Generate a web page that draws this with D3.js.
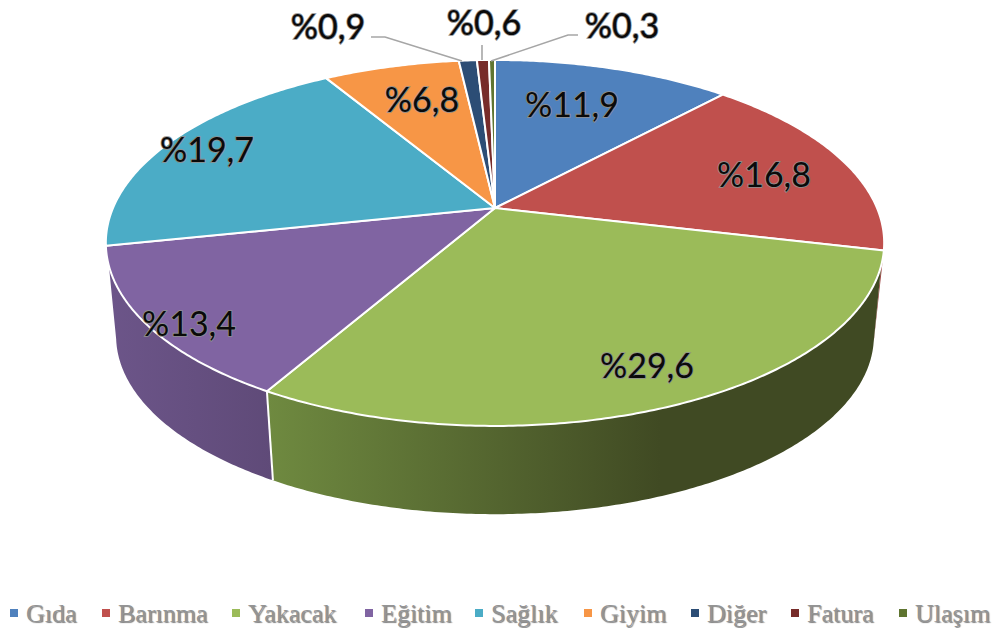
<!DOCTYPE html>
<html><head><meta charset="utf-8">
<script src="https://cdn.jsdelivr.net/npm/d3@7/dist/d3.min.js"></script>
<style>html,body{margin:0;background:#fff}svg{display:block}
.lab{font-family:Lato,"Open Sans",sans-serif;font-size:34px;fill:#0a0a0a;stroke:#8f8f8f;stroke-width:1.7px;paint-order:stroke fill}
.leg{font-family:"Liberation Serif",serif;font-size:26px;fill:#949494;text-shadow:1px 1px 1px #808080}
</style></head><body><script>
const categories=["Gıda","Barınma","Yakacak","Eğitim","Sağlık","Giyim","Diğer","Fatura","Ulaşım"];
const values=[11.9,16.8,29.6,13.4,19.7,6.8,0.9,0.6,0.3];
const labels=["%11,9","%16,8","%29,6","%13,4","%19,7","%6,8","%0,9","%0,6","%0,3"];
const colors=["#4f81bd","#c0504d","#9bbb59","#8064a2","#4bacc6","#f79646","#2c4d75","#772c2a","#5f7530"];
const wallLeft=["#3f6797","#9a403e","#6f8a40","#6c5589","#3c899e","#c67838","#233e5e","#5f2322","#4c5e26"];
const wallRight=["#3f6797","#9a403e","#404a23","#5f4a78","#3c899e","#c67838","#233e5e","#5f2322","#4c5e26"];
const labelPos=[[572,108],[764,178],[647,369],[189,327],[207,153],[422,103],[328,30],[484,26],[622,29]];
const leaderPts=[[[371,37],[385,37],[462,61]],[[482,45],[482,60]],[[578,35],[568,35],[491,61]]];
const legendX=[10,102,232,365,475,584,691,791,899];

const W=997,H=628,cx=495,cy=208,a=382,b=176.3,k=0.191,depthY=94,shrink=0.9736;
const svg=d3.select("body").append("svg").attr("width",W).attr("height",H);
const defs=svg.append("defs");
const pie=d3.pie().sort(null).value(d=>d).startAngle(0).endAngle(2*Math.PI);
const arcs=pie(values);
// perspective projection of the tilted disc
function topPt(t){const u=Math.sin(t),v=Math.cos(t),w=1+k*v;return [cx+a*u/w,cy-b*v/w];}
function botPt(t){const p=topPt(t);return [cx+shrink*(p[0]-cx),cy+depthY+shrink*(p[1]-cy)];}
function samples(t0,t1){const n=Math.max(2,Math.ceil((t1-t0)/0.01));return d3.range(n+1).map(i=>t0+(t1-t0)*i/n);}
const line=d3.line();
// visible part of the wall: the upper rim starts lower than the lower rim (silhouette)
const topA=Math.PI*0.6,topB=Math.PI*1.4,botA=Math.PI*0.567,botB=Math.PI*1.433;
// walls
arcs.forEach((d,i)=>{
  const tt0=Math.max(d.startAngle,topA),tt1=Math.min(d.endAngle,topB);
  const bt0=Math.max(d.startAngle,botA),bt1=Math.min(d.endAngle,botB);
  if(bt1<=bt0)return;
  const pts=samples(tt0,tt1).map(topPt).concat(samples(bt0,bt1).reverse().map(botPt));
  const xs=pts.map(p=>p[0]);
  const id="w"+i;
  const g=defs.append("linearGradient").attr("id",id).attr("gradientUnits","userSpaceOnUse")
    .attr("x2",d3.max(xs)).attr("x1",d3.min(xs)).attr("y1",0).attr("y2",0);
  g.append("stop").attr("offset",0).attr("stop-color",wallLeft[i]);
  g.append("stop").attr("offset",i===2?0.64:1).attr("stop-color",wallRight[i]);
  svg.append("path").attr("d",line(pts)+"Z").attr("fill",`url(#${id})`);
  // divider between walls, on the near side only
  if(d.startAngle>topA&&d.startAngle<topB)
    svg.append("path").attr("d",line([topPt(d.startAngle),botPt(d.startAngle)])).attr("fill","none").attr("stroke","#fff").attr("stroke-width",2);
});
// top face
arcs.forEach((d,i)=>{
  const pts=[[cx,cy]].concat(samples(d.startAngle,d.endAngle).map(topPt));
  svg.append("path").attr("d",line(pts)+"Z").attr("fill",colors[i]).attr("stroke","#fff").attr("stroke-width",2).attr("stroke-linejoin","round");
});
// leader lines
leaderPts.forEach(p=>svg.append("path").attr("d",line(p)).attr("fill","none").attr("stroke","#a6a6a6").attr("stroke-width",1.6));
// data labels
labels.forEach((t,i)=>svg.append("text").attr("class","lab").attr("x",labelPos[i][0]).attr("y",labelPos[i][1]).attr("text-anchor","middle").attr("dominant-baseline","middle").text(t));
// legend
categories.forEach((c,i)=>{
  svg.append("rect").attr("x",legendX[i]).attr("y",609).attr("width",8).attr("height",8).attr("fill",colors[i]);
  svg.append("text").attr("class","leg").attr("x",legendX[i]+16).attr("y",622).text(c);
});
</script></body></html>
